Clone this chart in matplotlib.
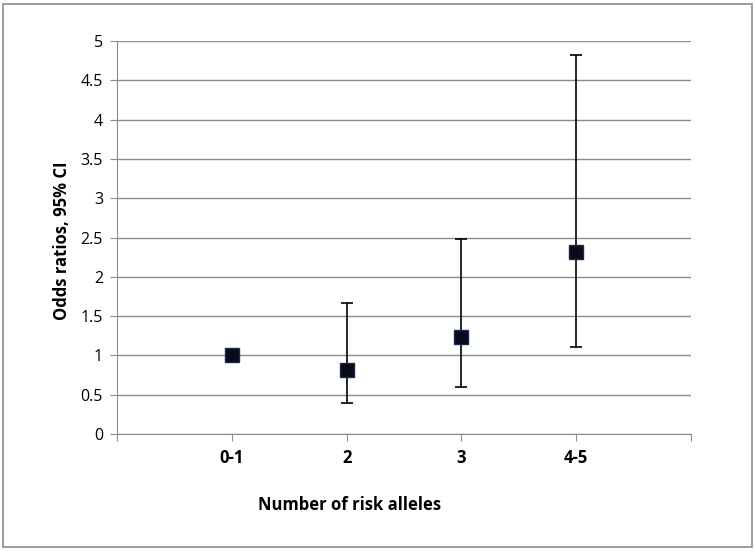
import matplotlib.pyplot as plt
from matplotlib.patches import Rectangle

# data
categories = ['0-1', '2', '3', '4-5']
odds = [1.01, 0.81, 1.24, 2.31]
ci_low = [1.01, 0.39, 0.60, 1.11]
ci_high = [1.01, 1.67, 2.48, 4.82]
yticks = [0, 0.5, 1, 1.5, 2, 2.5, 3, 3.5, 4, 4.5, 5]
ytick_labels = ['0', '0.5', '1', '1.5', '2', '2.5', '3', '3.5', '4', '4.5', '5']

plt.rcParams['font.family'] = ['Open Sans', 'DejaVu Sans']

fig = plt.figure(figsize=(7.55, 5.51), dpi=100)
ax = fig.add_axes([117 / 755, 1 - 434 / 551, (691 - 117) / 755, (434 - 41) / 551])

# outer frame of the chart
fig.patches.append(Rectangle((3 / 755, 4 / 551), 749 / 755, 543 / 551,
                             transform=fig.transFigure, fill=False,
                             edgecolor='#8c8c8c', linewidth=1.2))

x = list(range(1, len(categories) + 1))
err_lo = [o - l for o, l in zip(odds, ci_low)]
err_hi = [h - o for o, h in zip(odds, ci_high)]
ax.errorbar(x, odds, yerr=[err_lo, err_hi], fmt='none', ecolor='black',
            elinewidth=1.2, capsize=4, capthick=1.2, zorder=3)
ax.plot(x, odds, linestyle='none', marker='s', markersize=9.5,
        markerfacecolor='#0a0a1a', markeredgecolor='#1a2a4a', zorder=4)

ax.set_xlim(0, 5)
ax.set_ylim(0, 5)
ax.set_yticks(yticks)
ax.set_yticklabels(ytick_labels, fontsize=11.5)
ax.set_xticks([0] + x + [5])
ax.set_xticklabels([''] + categories + [''], fontsize=12, fontweight='bold')
ax.yaxis.grid(True, color='#8c8c8c', linewidth=1)
ax.set_axisbelow(True)

for s in ['top', 'right']:
    ax.spines[s].set_visible(False)
ax.spines['left'].set_color('#8c8c8c')
ax.spines['bottom'].set_color('#8c8c8c')
ax.tick_params(axis='y', length=5, color='#8c8c8c', pad=5)
ax.tick_params(axis='x', length=5, color='#8c8c8c', pad=6)

# axis titles placed like the Excel original
fig.text(62 / 755, 1 - 241 / 551, 'Odds ratios, 95% CI', fontsize=12,
         fontweight='bold', rotation=90, ha='center', va='center')
fig.text(350 / 755, 1 - 505 / 551, 'Number of risk alleles', fontsize=12,
         fontweight='bold', ha='center', va='center')

fig.savefig('out.png', dpi=100)
